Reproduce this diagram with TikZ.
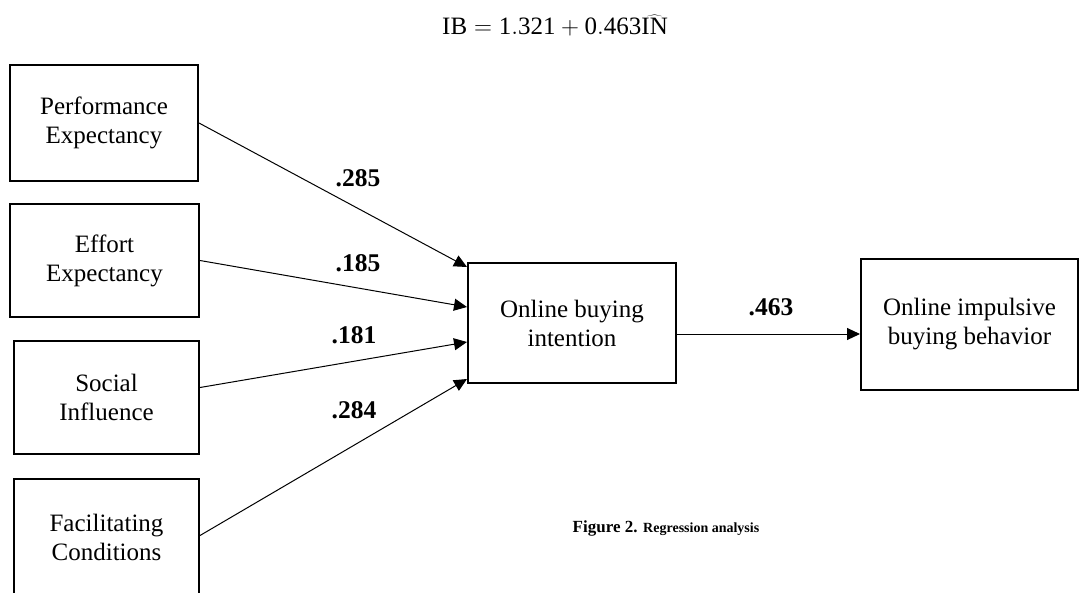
\documentclass[tikz,border=0pt]{standalone}
\usepackage{fontspec}
\setmainfont{Liberation Serif}
\usetikzlibrary{arrows.meta,calc}
\begin{document}
\begin{tikzpicture}[x=1pt,y=-1pt,
  box/.style={draw, line width=2pt, rectangle, inner sep=0pt, align=center,
    font=\fontsize{25}{29}\selectfont},
  conn/.style={line width=1pt, -{Triangle[length=13pt,width=12pt]}},
  coef/.style={font=\fontsize{25.5}{28}\selectfont\bfseries, inner sep=0pt}]
\useasboundingbox (0,0) rectangle (1086,592);
\clip (0,0) rectangle (1086,592);
\node[inner sep=0pt, font=\fontsize{25}{29}\selectfont] (eq) at (555,26) {$\mathrm{IB} = \mathrm{1.321} + \mathrm{0.463}\widehat{\mathrm{IN}}$};
\node[box, minimum width=188pt, minimum height=116pt] (pe) at (104,123) {Performance\\Expectancy};
\node[box, minimum width=189pt, minimum height=113pt] (ee) at (104.5,260.5) {Effort\\Expectancy};
\node[box, minimum width=185pt, minimum height=113pt] (si) at (106.5,397.5) {Social\\Influence};
\node[box, minimum width=185pt, minimum height=117pt] (fc) at (106.5,537.5) {Facilitating\\Conditions};
\node[box, minimum width=208pt, minimum height=120pt] (obi) at (572,323) {Online buying\\intention};
\node[box, minimum width=217pt, minimum height=131pt] (oibb) at (969.5,324.5) {Online impulsive\\buying behavior};
\draw[conn] (pe.east) -- ($(obi.north west)+(0,5)$);
\draw[conn] (ee.east) -- ($(obi.west)+(0,-16)$);
\draw[conn] ($(si.east)+(0,-10)$) -- ($(obi.west)+(0,19)$);
\draw[conn] ($(fc.east)+(0,-2)$) -- ($(obi.south west)+(0,-5)$);
\draw[conn] ($(obi.east)+(0,11)$) -- ($(oibb.west)+(0,9.5)$);
\node[coef] (c1) at (358,178) {.285};
\node[coef] (c2) at (358,263) {.185};
\node[coef] (c3) at (354,335) {.181};
\node[coef] (c4) at (354,410) {.284};
\node[coef] (c5) at (771,307) {.463};
\node[inner sep=0pt, font=\bfseries] (cap) at (666,528) {\fontsize{17}{20}\selectfont Figure 2. \fontsize{14}{17}\selectfont Regression analysis};
\end{tikzpicture}
\end{document}
